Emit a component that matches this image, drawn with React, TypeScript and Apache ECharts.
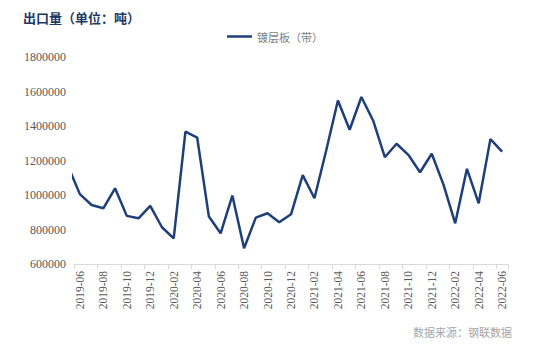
import React, { useEffect, useRef } from "react";
import * as echarts from "echarts";

const months: string[] = [
  "2019-06", "2019-07", "2019-08", "2019-09", "2019-10", "2019-11", "2019-12",
  "2020-01", "2020-02", "2020-03", "2020-04", "2020-05", "2020-06", "2020-07",
  "2020-08", "2020-09", "2020-10", "2020-11", "2020-12", "2021-01", "2021-02",
  "2021-03", "2021-04", "2021-05", "2021-06", "2021-07", "2021-08", "2021-09",
  "2021-10", "2021-11", "2021-12", "2022-01", "2022-02", "2022-03", "2022-04",
  "2022-05", "2022-06",
];

// 镀层板（带） export volume, tonnes
const coatedPlate: number[] = [
  1005000, 942000, 923000, 1039000, 879000, 865000, 937000,
  813000, 749000, 1368000, 1333000, 875000, 778000, 997000,
  691000, 869000, 894000, 842000, 888000, 1115000, 981000,
  1258000, 1548000, 1378000, 1568000, 1432000, 1219000, 1297000,
  1233000, 1132000, 1239000, 1060000, 836000, 1152000, 952000,
  1324000, 1252000,
];

// value of the month before the first shown month (line enters from the left edge)
const previousMonthValue = 1166000;

const yMin = 600000;
const yMax = 1800000;
const yStep = 200000;

const seriesName = "镀层板（带）";
const titleText = "出口量（单位：吨）";
const sourceText = "数据来源：钢联数据";

export default function App() {
  const ref = useRef<HTMLDivElement>(null);

  useEffect(() => {
    if (!ref.current) return;
    const chart = echarts.init(ref.current, undefined, { renderer: "svg" });
    const points: [number, number][] = [[-1, previousMonthValue]];
    coatedPlate.forEach((v, i) => points.push([i, v]));

    chart.setOption({
      animation: false,
      backgroundColor: "#ffffff",
      title: {
        text: titleText,
        left: 18,
        top: 6,
        textStyle: {
          fontFamily: "Noto Sans CJK SC",
          fontSize: 13,
          fontWeight: "bold",
          color: "#1f3864",
        },
      },
      legend: {
        data: [seriesName],
        top: 26,
        left: 222,
        icon: "rect",
        itemWidth: 25,
        itemHeight: 2.5,
        itemGap: 6,
        textStyle: {
          fontFamily: "Noto Sans CJK SC",
          fontSize: 11,
          color: "#7f7f7f",
        },
      },
      graphic: [
        {
          type: "text",
          right: 42,
          top: 326,
          style: {
            text: sourceText,
            fontFamily: "Noto Sans CJK SC",
            fontSize: 11,
            fill: "#a6a6a6",
          },
        },
      ],
      grid: { left: 74, right: 46, top: 57, bottom: 92 },
      xAxis: [
        {
          type: "category",
          data: months,
          boundaryGap: true,
          axisLine: { show: true, lineStyle: { color: "#d9d9d9", width: 1 } },
          axisTick: {
            show: true,
            interval: 1,
            length: 5,
            lineStyle: { color: "#d9d9d9" },
          },
          axisLabel: {
            interval: 1,
            rotate: 90,
            margin: 7,
            fontFamily: "Liberation Serif",
            fontSize: 11.5,
            color: "#595959",
          },
          splitLine: { show: false },
        },
        {
          type: "value",
          min: -0.5,
          max: months.length - 0.5,
          show: false,
          splitLine: { show: false },
        },
      ],
      yAxis: {
        type: "value",
        min: yMin,
        max: yMax,
        interval: yStep,
        axisLine: { show: false },
        axisTick: { show: false },
        splitLine: { show: false },
        axisLabel: {
          margin: 8,
          fontFamily: "Liberation Serif",
          fontSize: 12,
          color: "#595959",
          formatter: (v: number) => String(v),
        },
      },
      series: [
        {
          name: seriesName,
          type: "line",
          xAxisIndex: 1,
          data: points,
          showSymbol: false,
          symbol: "none",
          clip: true,
          lineStyle: { color: "#1f3f7a", width: 2.5 },
          itemStyle: { color: "#1f3f7a" },
        },
      ],
    });
    return () => chart.dispose();
  }, []);

  return <div ref={ref} style={{ width: 554, height: 356, margin: -8 }} />;
}
